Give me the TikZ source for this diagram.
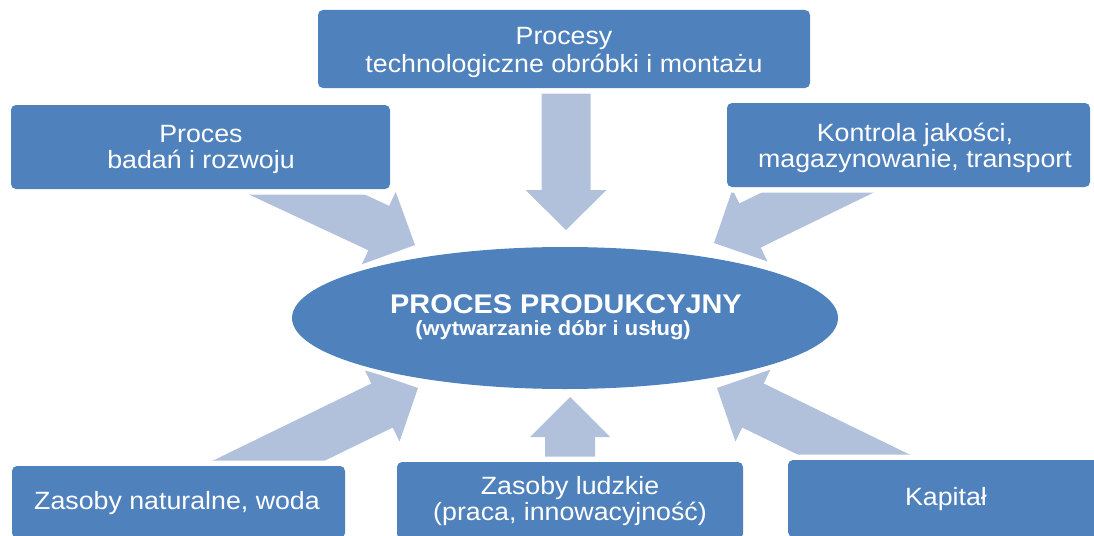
\documentclass[tikz,border=0pt]{standalone}
\usepackage{fontspec}
\setmainfont{Liberation Sans}[FakeStretch=1.07]
\usetikzlibrary{calc,shapes.geometric}
\definecolor{boxblue}{HTML}{4F81BD}
\definecolor{arrowfill}{HTML}{B2C1DB}
\newcommand{\blockarrow}[5]{% #1 name, #2 rear, #3 tip, #4 half shaft, #5 half head
  \coordinate (#1h) at ($(#3)!40pt!(#2)$);
  \fill[arrowfill] ($(#2)!#4!90:(#3)$) -- ($(#1h)!#4!90:(#3)$) -- ($(#1h)!#5!90:(#3)$)
    -- (#3) -- ($(#1h)!#5!-90:(#3)$) -- ($(#1h)!#4!-90:(#3)$) -- ($(#2)!#4!-90:(#3)$) -- cycle;
}
\tikzset{
  box/.style={fill=boxblue, rounded corners=5pt, preaction={draw=white, line width=11pt},
    inner sep=0pt},
  boxtext/.style={text=white, anchor=base, inner sep=0pt,
    font=\fontsize{25pt}{27pt}\selectfont},
  centre/.style={ellipse, fill=boxblue, preaction={draw=white, line width=8pt},
    inner sep=0pt},
  centretext/.style={text=white, anchor=base, inner sep=0pt}
}
\begin{document}
\begin{tikzpicture}[x=1pt,y=-1pt]
\useasboundingbox (0,0) rectangle (1094,535);
\clip (0,0) rectangle (1094,535);
% arrow end points
\coordinate (atr) at (566,50);   \coordinate (att) at (566,230);
\coordinate (aulr) at (234,160.5); \coordinate (ault) at (415,245);
\coordinate (aurr) at (894,155.4); \coordinate (aurt) at (714,243);
\coordinate (allr) at (202.2,493.1); \coordinate (allt) at (418,388);
\coordinate (alrr) at (932.8,493.1); \coordinate (alrt) at (717,388);
\coordinate (abr) at (570,500);  \coordinate (abt) at (570,397);
\blockarrow{at}{atr}{att}{24.5pt}{40.5pt}
\blockarrow{aul}{aulr}{ault}{24.5pt}{40pt}
\blockarrow{aur}{aurr}{aurt}{24.5pt}{40pt}
\blockarrow{all}{allr}{allt}{24.5pt}{40pt}
\blockarrow{alr}{alrr}{alrt}{24.5pt}{40pt}
\blockarrow{ab}{abr}{abt}{25pt}{40pt}
% boxes
\node[box, minimum width=492pt, minimum height=78pt] (top) at (564,49) {};
\node[box, minimum width=379pt, minimum height=84pt] (left) at (200.5,147) {};
\node[box, minimum width=363pt, minimum height=84pt] (right) at (908.5,145) {};
\node[box, minimum width=333pt, minimum height=72pt] (bl) at (178.5,502) {};
\node[box, minimum width=346pt, minimum height=77pt] (bm) at (570,500.5) {};
\node[box, minimum width=316pt, minimum height=77pt] (br) at (946,498.5) {};
% box texts
\node[boxtext] (top1) at (564,45) {Procesy};
\node[boxtext] (top2) at (564,72) {technologiczne obróbki i montażu};
\node[boxtext] (left1) at (201,142) {Proces};
\node[boxtext] (left2) at (201,168) {badań i rozwoju};
\node[boxtext] (right1) at (915,141) {Kontrola jakości,};
\node[boxtext] (right2) at (915,167) {magazynowanie, transport};
\node[boxtext] (bl1) at (177,509) {Zasoby naturalne, woda};
\node[boxtext] (bm1) at (570,494) {Zasoby ludzkie};
\node[boxtext] (bm2) at (570,520) {(praca, innowacyjność)};
\node[boxtext] (br1) at (946,505) {Kapitał};
% centre
\node[centre, minimum width=546pt, minimum height=142pt] (proc) at (565,318) {};
\node[centretext, font=\fontsize{27pt}{27pt}\selectfont\bfseries] (proct1) at (566,313) {PROCES PRODUKCYJNY};
\node[centretext, font=\fontsize{20.5pt}{22pt}\selectfont\bfseries] (proct2) at (553,335) {(wytwarzanie dóbr i usług)};
\end{tikzpicture}
\end{document}
